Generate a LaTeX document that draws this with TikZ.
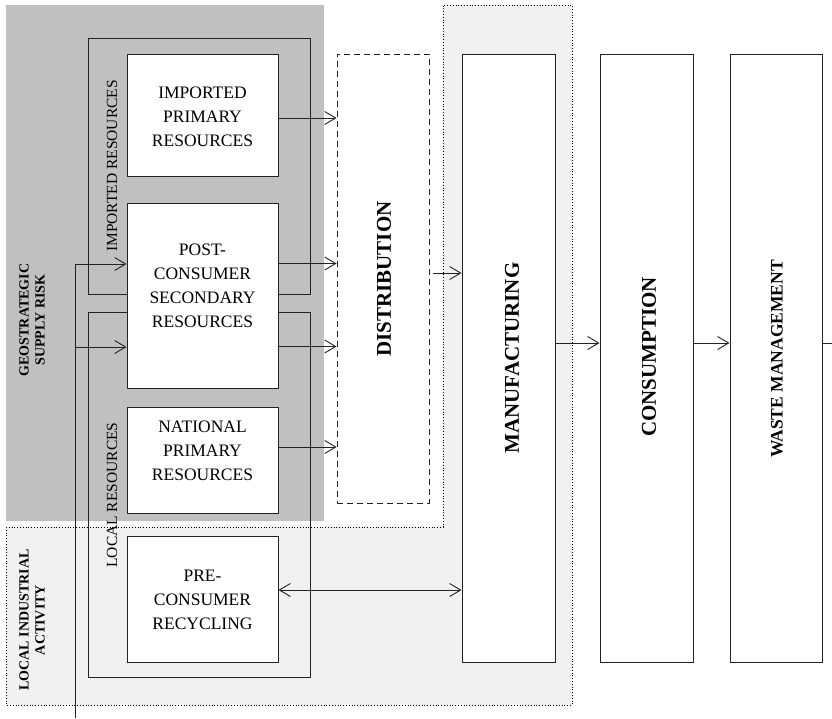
\documentclass[tikz,border=0pt]{standalone}
\usepackage{fontspec}
\setmainfont{Liberation Serif}
\usetikzlibrary{arrows.meta,calc}

\definecolor{geogray}{HTML}{C0C0C0}
\definecolor{localgray}{HTML}{F1F1F1}
\definecolor{ink}{HTML}{222222}

\begin{document}
\begin{tikzpicture}[x=1pt,y=-1pt,line width=0.9pt,
  box/.style={draw=ink,fill=white,inner sep=0pt,line width=1pt},
  boxtext/.style={align=center,inner sep=0pt,font=\fontsize{17.5}{24}\selectfont},
  stagetext/.style={rotate=90,inner sep=0pt,font=\bfseries\fontsize{21}{24}\selectfont},
  grouptext/.style={rotate=90,inner sep=0pt,font=\fontsize{15.5}{18}\selectfont},
  zonetext/.style={rotate=90,align=center,inner sep=0pt,font=\bfseries\fontsize{14}{16}\selectfont},
  frame/.style={draw=ink,line width=0.9pt},
  arr/.style={draw=ink,-{Straight Barb[length=11pt,width=13pt,line width=0.9pt]}},
  dblarr/.style={draw=ink,{Straight Barb[length=11pt,width=13pt,line width=0.9pt]}-{Straight Barb[length=11pt,width=13pt,line width=0.9pt]}}]

\useasboundingbox (0,0) rectangle (832,718);

% supply-risk zone and local industrial zone
\fill[geogray] (6,5) rectangle (324,521);
\filldraw[fill=localgray,draw=black,dotted,line width=0.8pt]
  (6,527) -- (443,527) -- (443,5) -- (572,5) -- (572,705) -- (6,705) -- cycle;

% feed-in line from the left edge
\coordinate (feedtop) at (75,264);
\coordinate (feedmid) at (75,347);
\coordinate (feedbot) at (75,718);

% resource group frames
\draw[frame] (88,38) rectangle (310,294);
\draw[frame] (88,312) rectangle (310,677);

% resource boxes
\node[box,minimum width=151pt,minimum height=122pt] (imp) at (202.5,115) {};
\node[box,minimum width=151pt,minimum height=185pt] (pcs) at (202.5,295.5) {};
\node[box,minimum width=151pt,minimum height=106pt] (nat) at (202.5,460) {};
\node[box,minimum width=151pt,minimum height=126pt] (pre) at (202.5,599) {};

\node[boxtext] (imptext) at (202.5,117) {IMPORTED\\PRIMARY\\RESOURCES};
\node[boxtext] (pcstext) at (202.5,286) {POST-\\CONSUMER\\SECONDARY\\RESOURCES};
\node[boxtext] (nattext) at (202.5,451) {NATIONAL\\PRIMARY\\RESOURCES};
\node[boxtext] (pretext) at (202.5,600) {PRE-\\CONSUMER\\RECYCLING};

% chain stages
\node[box,dash pattern=on 6pt off 4pt,line width=0.9pt,minimum width=92pt,minimum height=449pt] (dist) at (383,278.5) {};
\node[box,minimum width=93pt,minimum height=608pt] (man) at (508.5,358) {};
\node[box,minimum width=93pt,minimum height=608pt] (con) at (646.5,358) {};
\node[box,minimum width=92pt,minimum height=608pt] (wm) at (776,358) {};

\node[stagetext] (disttext) at (384,279) {DISTRIBUTION};
\node[stagetext] (mantext) at (512,358) {MANUFACTURING};
\node[stagetext] (context) at (649,357) {CONSUMPTION};
\node[stagetext,font=\bfseries\fontsize{17.5}{20}\selectfont] (wmtext) at (777,359) {WASTE MANAGEMENT};

% group and zone labels
\node[grouptext] (implabel) at (112,166) {IMPORTED RESOURCES};
\node[grouptext] (loclabel) at (112,495) {LOCAL RESOURCES};
\node[zonetext] (geolabel) at (32,320) {GEOSTRATEGIC\\SUPPLY RISK};
\node[zonetext] (indlabel) at (32,620) {LOCAL INDUSTRIAL\\ACTIVITY};

% flows into distribution
\draw[arr] ($(imp.east)+(0,3)$) coordinate (i1) -- (dist.west |- i1);
\draw[arr] ($(pcs.north east)+(0,61)$) coordinate (p1) -- (dist.west |- p1);
\draw[arr] ($(pcs.north east)+(0,144)$) coordinate (p2) -- (dist.west |- p2);
\draw[arr] ($(nat.east)+(0,-13)$) coordinate (n1) -- (dist.west |- n1);

% feed-in arrows
\draw[draw=ink] (feedbot) -- (feedtop);
\draw[arr] (feedtop) -- (pcs.west |- feedtop);
\draw[arr] (feedmid) -- (pcs.west |- feedmid);

% main chain
\draw[arr] ($(dist.east)+(4,-5.5)$) coordinate (d1) -- (man.west |- d1);
\coordinate (exit) at (832,343);
\draw[arr] (man.east |- exit) -- (con.west |- exit);
\draw[arr] (con.east |- exit) -- (wm.west |- exit);
\draw[draw=ink] (wm.east |- exit) -- (exit);

% recycling loop
\draw[dblarr] ($(pre.east)+(0,-9)$) coordinate (r1) -- (man.west |- r1);

\end{tikzpicture}
\end{document}
